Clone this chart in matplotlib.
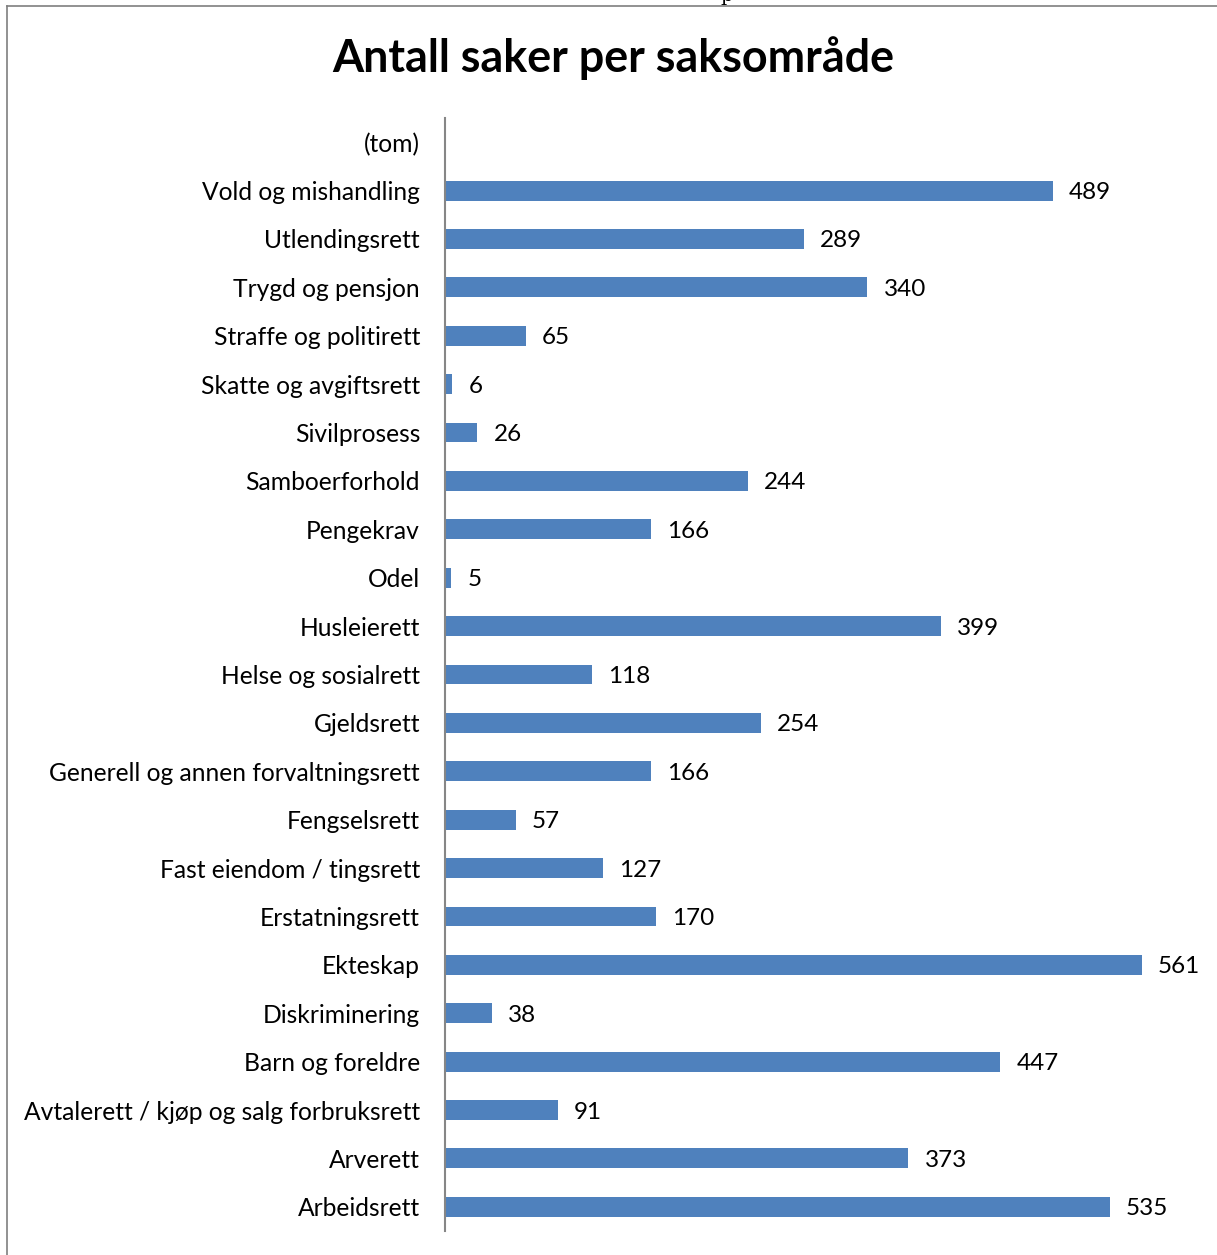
import matplotlib.pyplot as plt
from matplotlib.lines import Line2D

categories = ['(tom)', 'Vold og mishandling', 'Utlendingsrett', 'Trygd og pensjon',
              'Straffe og politirett', 'Skatte og avgiftsrett', 'Sivilprosess',
              'Samboerforhold', 'Pengekrav', 'Odel', 'Husleierett',
              'Helse og sosialrett', 'Gjeldsrett', 'Generell og annen forvaltningsrett',
              'Fengselsrett', 'Fast eiendom / tingsrett', 'Erstatningsrett', 'Ekteskap',
              'Diskriminering', 'Barn og foreldre',
              'Avtalerett / kjøp og salg forbruksrett', 'Arverett', 'Arbeidsrett']
values = [None, 489, 289, 340, 65, 6, 26, 244, 166, 5, 399, 118, 254, 166, 57, 127,
          170, 561, 38, 447, 91, 373, 535]

plt.rcParams['font.family'] = ['Lato', 'DejaVu Sans']

W, H = 1217, 1255
fig = plt.figure(figsize=(W / 100, H / 100), dpi=100)

# axes placed in pixel terms: y-axis at x=445, spans y=118..1231
x0, x1 = 445, 445 + 600 * 1.2424
y_top, y_bot = 118, 1231
ax = fig.add_axes([x0 / W, 1 - y_bot / H, (x1 - x0) / W, (y_bot - y_top) / H])

pos = list(range(len(categories)))
for i, v in enumerate(values):
    if v is None:
        continue
    ax.barh(i, v, height=0.41, color='#4F81BD')
    ax.text(v + 13, i, str(v), va='center_baseline', ha='left', fontsize=17.5)

ax.set_yticks(pos)
ax.set_yticklabels(categories, fontsize=17.7)
ax.set_ylim(len(categories) - 0.5, -0.5)
ax.set_xlim(0, 600)
ax.set_xticks([])
ax.tick_params(axis='y', length=0, pad=18)
for s in ['top', 'right', 'bottom']:
    ax.spines[s].set_visible(False)
ax.spines['left'].set_color('#868686')
ax.spines['left'].set_linewidth(1.5)

fig.text(613 / W, 1 - 58 / H, 'Antall saker per saksområde', ha='center', va='center',
         fontsize=32.3, fontweight='bold')

# chart frame (partially visible)
fig.add_artist(Line2D([7 / W, 7 / W], [0, 1 - 6 / H], color='#7f7f7f', lw=1.2))
fig.add_artist(Line2D([7 / W, 1], [1 - 6 / H, 1 - 6 / H], color='#7f7f7f', lw=1.2))
fig.text(727 / W, 1 - 1 / H, 'p', family='DejaVu Serif', fontsize=14, ha='center', va='baseline')

fig.savefig('out.png', dpi=100)
